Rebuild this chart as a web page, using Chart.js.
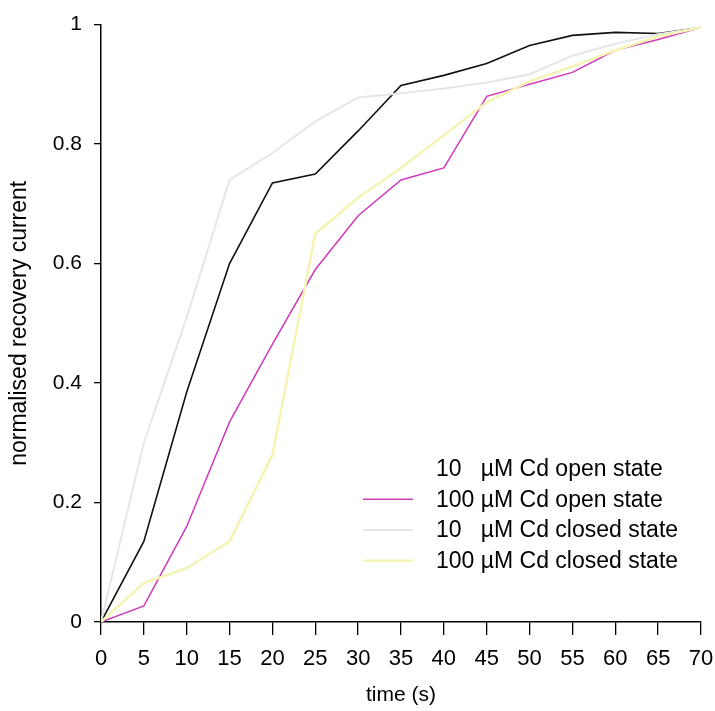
<!DOCTYPE html>
<html lang="en">
<head>
  <meta charset="UTF-8">
  <title>Recovery current after Cd block</title>
  <script src="https://cdn.jsdelivr.net/npm/chart.js"></script>
  <style>
    body { margin: 0; background: #fff; }
  </style>
</head>
<body>
  <canvas id="recoveryChart" width="715" height="711"></canvas>

  <script>
    // recovery time points (s)
    const times = [0, 5, 10, 15, 20, 25, 30, 35, 40, 45, 50, 55, 60, 65, 70];

    // normalised recovery current for each condition
    const open10 = [0, 0.135, 0.385, 0.60, 0.735, 0.75, 0.822, 0.898, 0.915, 0.935, 0.965, 0.982, 0.987, 0.985, 0.995];
    const open100 = [0, 0.027, 0.16, 0.335, 0.465, 0.59, 0.68, 0.74, 0.76, 0.88, 0.90, 0.92, 0.957, 0.975, 0.995];
    const closed10 = [0, 0.30, 0.51, 0.74, 0.785, 0.838, 0.878, 0.885, 0.893, 0.903, 0.917, 0.948, 0.968, 0.984, 0.995];
    const closed100 = [0, 0.065, 0.09, 0.135, 0.28, 0.65, 0.71, 0.76, 0.815, 0.87, 0.905, 0.93, 0.957, 0.98, 0.995];

    const seriesLabels = [
      "10   \u00B5M Cd open state",
      "100 \u00B5M Cd open state",
      "10   \u00B5M Cd closed state",
      "100 \u00B5M Cd closed state"
    ];

    const yTicks = [0, 0.2, 0.4, 0.6, 0.8, 1];

    function toPoints(values) {
      return times.map((t, i) => ({ x: t, y: values[i] }));
    }

    // legend drawn inside the plot, lower right
    const insideLegend = {
      id: "insideLegend",
      afterDraw(chart) {
        const { ctx, chartArea } = chart;
        ctx.save();
        ctx.font = '23px Arial, "Liberation Sans", sans-serif';
        ctx.textBaseline = "middle";
        ctx.fillStyle = "#000";
        chart.data.datasets.forEach((ds, i) => {
          const y = chartArea.top + 444 + i * 30.7;
          if (ds.legendLine !== false) {
            ctx.strokeStyle = ds.borderColor;
            ctx.lineWidth = ds.borderWidth;
            ctx.beginPath();
            ctx.moveTo(363, y);
            ctx.lineTo(413, y);
            ctx.stroke();
          }
          ctx.fillText(ds.label, 436, y + 1);
        });
        ctx.restore();
      }
    };

    Chart.defaults.font.family = 'Arial, "Liberation Sans", sans-serif';
    Chart.defaults.color = "#000";

    function drawChart() {
      const ctx = document.getElementById("recoveryChart").getContext("2d");

      new Chart(ctx, {
        type: "line",
        data: {
          datasets: [
            {
              label: seriesLabels[0],
              data: toPoints(open10),
              borderColor: "#111111",
              borderWidth: 1.6,
              legendLine: false,
              order: 3
            },
            {
              label: seriesLabels[1],
              data: toPoints(open100),
              borderColor: "#d03ab8",
              borderWidth: 1.5,
              order: 2
            },
            {
              label: seriesLabels[2],
              data: toPoints(closed10),
              borderColor: "#e6e6e6",
              borderWidth: 2,
              order: 1
            },
            {
              label: seriesLabels[3],
              data: toPoints(closed100),
              borderColor: "#f4f4b4",
              borderWidth: 2.5,
              order: 0
            }
          ]
        },
        options: {
          responsive: false,
          animation: false,
          devicePixelRatio: 1,
          layout: { padding: { left: 0, top: 24, right: 14, bottom: 0 } },
          elements: {
            point: { radius: 0 },
            line: { tension: 0, fill: false }
          },
          plugins: {
            legend: { display: false },
            tooltip: { enabled: false }
          },
          scales: {
            x: {
              type: "linear",
              min: 0,
              max: 70,
              afterFit(scale) {
                scale.height = 89;
                // the end labels fit inside the layout padding already
                scale.paddingLeft = 0;
                scale.paddingRight = 0;
              },
              ticks: {
                stepSize: 5,
                autoSkip: false,
                maxRotation: 0,
                padding: 11,
                font: { size: 22 }
              },
              grid: {
                drawOnChartArea: false,
                drawTicks: true,
                tickLength: 13,
                color: "#000",
                lineWidth: 1.3
              },
              border: { display: true, color: "#000", width: 1.5 },
              title: {
                display: true,
                text: "time (s)",
                font: { size: 21 },
                padding: { top: 0, bottom: 3 }
              }
            },
            y: {
              min: 0,
              max: 1,
              afterFit(scale) { scale.width = 101; },
              afterBuildTicks(scale) {
                scale.ticks = yTicks.map(v => ({ value: v }));
              },
              ticks: {
                padding: 12,
                font: { size: 21 },
                callback: v => String(v)
              },
              grid: {
                drawOnChartArea: false,
                drawTicks: true,
                tickLength: 7,
                color: "#000",
                lineWidth: 1.3
              },
              border: { display: true, color: "#000", width: 1.5 },
              title: {
                display: true,
                text: "normalised recovery current",
                font: { size: 23 },
                padding: { top: 6, bottom: 0 }
              }
            }
          }
        },
        plugins: [insideLegend]
      });
    }

    document.addEventListener("DOMContentLoaded", drawChart);
  </script>
</body>
</html>
